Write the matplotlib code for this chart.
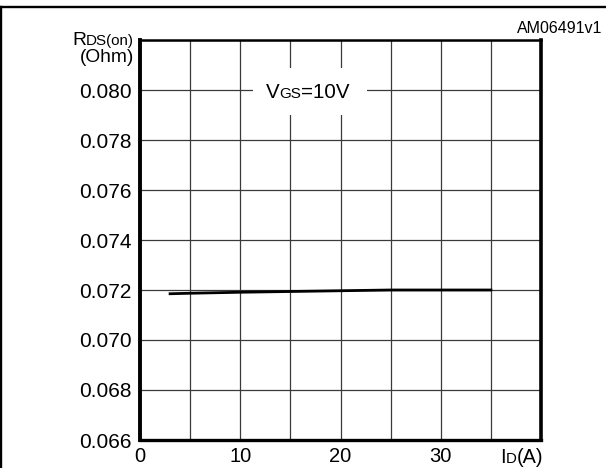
import matplotlib.pyplot as plt
from matplotlib.patches import Rectangle
from matplotlib.lines import Line2D

plt.rcParams['font.family'] = ['Liberation Sans', 'DejaVu Sans']

# data
id_amps = [3, 5, 10, 15, 20, 25, 30, 35]
rds_on = [0.07185, 0.07187, 0.07191, 0.07194, 0.07197, 0.0720, 0.0720, 0.0720]

x_ticks = [0, 5, 10, 15, 20, 25, 30, 35, 40]
x_labels = ['0', '', '10', '', '20', '', '30', '', '']
y_ticks = [0.066, 0.068, 0.070, 0.072, 0.074, 0.076, 0.078, 0.080, 0.082]
y_labels = ['0.066', '0.068', '0.070', '0.072', '0.074', '0.076', '0.078', '0.080', '']

W, H = 606, 468
fig = plt.figure(figsize=(W / 100, H / 100), dpi=100)
ax = fig.add_axes([140 / W, 28 / H, 401 / W, 400 / H])

ax.plot(id_amps, rds_on, color='black', lw=2.0, zorder=3)

ax.set_xlim(0, 40)
ax.set_ylim(0.066, 0.082)
ax.set_xticks(x_ticks)
ax.set_xticklabels(x_labels, fontsize=14.5)
ax.set_yticks(y_ticks)
ax.set_yticklabels(y_labels, fontsize=15)
ax.tick_params(length=0)
ax.tick_params(axis='x', pad=5)
ax.tick_params(axis='y', pad=6)
ax.grid(True, color='#3a3a3a', lw=0.9)

ax.spines['left'].set_linewidth(2.8)
ax.spines['right'].set_linewidth(2.6)
ax.spines['bottom'].set_linewidth(2.4)
ax.spines['top'].set_linewidth(1.8)

# white patch behind the condition label
ax.add_patch(Rectangle((11.3, 0.0790), 11.35, 0.00188, facecolor='white',
                       edgecolor='none', zorder=2))

renderer = fig.canvas.get_renderer()


def mixed_text(x, y, parts, ha='left'):
    # x, y in pixels from the top-left corner, y is the baseline
    widths = []
    for t, s in parts:
        tmp = fig.text(0, 0, t, fontsize=s)
        widths.append(tmp.get_window_extent(renderer).width)
        tmp.remove()
    total = sum(widths)
    if ha == 'right':
        x -= total
    elif ha == 'center':
        x -= total / 2
    for (t, s), w in zip(parts, widths):
        fig.text(x / W, 1 - y / H, t, fontsize=s, ha='left', va='baseline', zorder=5)
        x += w


mixed_text(266, 98.3, [('V', 14.8), ('GS', 11), ('=10V', 14.8)])
mixed_text(134, 45, [('R', 13.8), ('DS(on)', 10.9)], ha='right')
mixed_text(134, 61.5, [('(Ohm)', 13.8)], ha='right')
mixed_text(543, 463.3, [('I', 14.3), ('D', 10.8), ('(A)', 14.3)], ha='right')
mixed_text(602, 33.3, [('AM06491v1', 11.5)], ha='right')

# outer frame (top and left edges visible)
fig.add_artist(Line2D([0, 1], [1 - 6.5 / H, 1 - 6.5 / H], transform=fig.transFigure,
                      color='black', lw=1.7))
fig.add_artist(Line2D([1 / W, 1 / W], [0, 1 - 6.5 / H], transform=fig.transFigure,
                      color='black', lw=1.7))

fig.savefig('out.png', dpi=100)
